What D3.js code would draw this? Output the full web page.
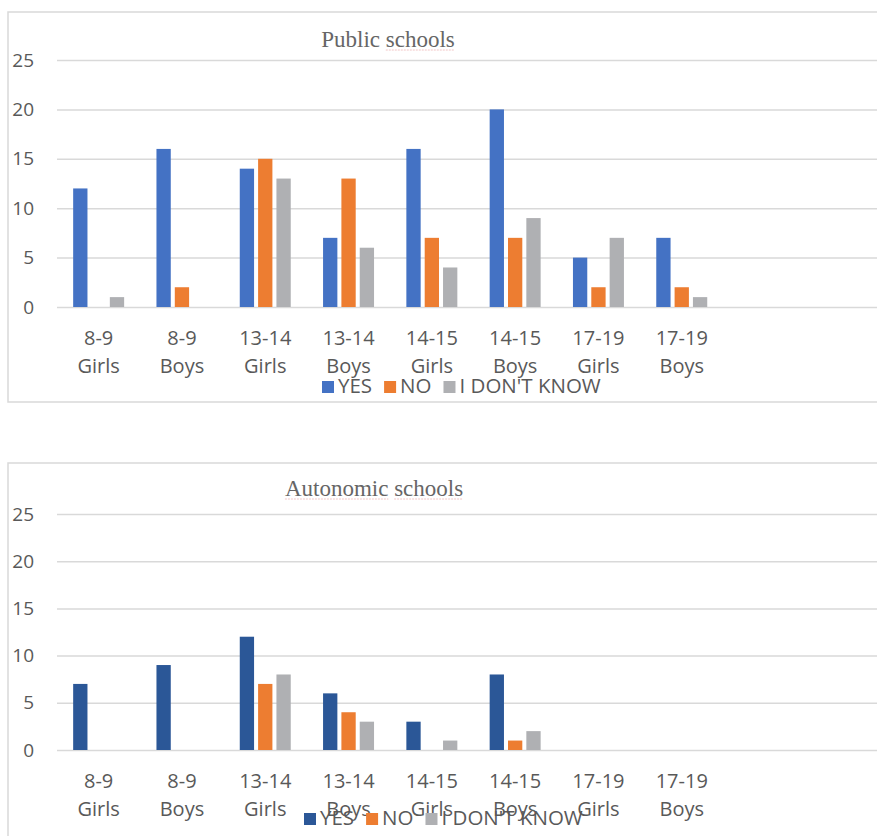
<!DOCTYPE html>
<html>
<head>
<meta charset="utf-8">
<script src="https://cdn.jsdelivr.net/npm/d3@7"></script>
<style>
  body { margin: 0; background: #fff; }
  svg { display: block; }
</style>
</head>
<body>
<div id="chart"></div>
<script>
// Data
const categories = ["8-9 Girls", "8-9 Boys", "13-14 Girls", "13-14 Boys", "14-15 Girls", "14-15 Boys", "17-19 Girls", "17-19 Boys"];
const series = ["YES", "NO", "I DON'T KNOW"];
const yTicks = [0, 5, 10, 15, 20, 25];

const publicYes = [12, 16, 14, 7, 16, 20, 5, 7];
const publicNo = [0, 2, 15, 13, 7, 7, 2, 2];
const publicDontKnow = [1, 0, 13, 6, 4, 9, 7, 1];

const autoYes = [7, 9, 12, 6, 3, 8, 0, 0];
const autoNo = [0, 0, 7, 4, 0, 1, 0, 0];
const autoDontKnow = [0, 0, 8, 3, 1, 2, 0, 0];

// Base variables
const w = 877;
const h = 836;
const plotLeft = 57;
const bandStep = 83.3;
const textColor = "#595959";
const gridColor = "#d9d9d9";

const svg = d3
  .select("#chart")
  .append("svg")
  .attr("width", w)
  .attr("height", h);

function drawPanel(p) {
  const g = svg.append("g");

  // outer frame (runs off the right / bottom of the picture)
  g.append("rect")
    .attr("x", 8)
    .attr("y", p.boxTop)
    .attr("width", 900)
    .attr("height", p.boxHeight)
    .attr("fill", "none")
    .attr("stroke", gridColor)
    .attr("stroke-width", 1.5);

  // title, with the faint spell-check marks seen under some words
  const title = g.append("text")
    .attr("x", p.titleX)
    .attr("y", p.titleY)
    .attr("text-anchor", "middle")
    .style("font-family", "'Liberation Serif', 'Times New Roman', serif")
    .style("font-size", "23px")
    .attr("fill", "#666");
  const spans = p.title.map((word, i) =>
    title.append("tspan").text((i ? " " : "") + word.text)
  );
  p.title.forEach((word, i) => {
    if (!word.squiggle) return;
    const node = spans[i].node();
    const n = node.getNumberOfChars();
    const start = node.getStartPositionOfChar(i ? 1 : 0).x;
    const end = node.getEndPositionOfChar(n - 1).x;
    g.append("line")
      .attr("x1", start)
      .attr("x2", end)
      .attr("y1", p.titleY + 3)
      .attr("y2", p.titleY + 3)
      .attr("stroke", "#f2c6c6")
      .attr("stroke-width", 1)
      .attr("stroke-dasharray", "2,1");
  });

  // Scales
  const x0 = d3.scaleBand()
    .domain(categories)
    .range([plotLeft, plotLeft + bandStep * categories.length])
    .paddingInner(0.388)
    .paddingOuter(0.194);

  const x1 = d3.scaleBand()
    .domain(series)
    .range([0, x0.bandwidth()])
    .paddingInner(0.22);

  const y = d3.scaleLinear()
    .domain([0, 25])
    .range([p.y0, p.y25]);

  // y-axis with gridlines
  const yAxis = d3.axisLeft(y)
    .tickValues(yTicks)
    .tickSize(-(w - plotLeft + 20))
    .tickPadding(23);

  const ya = g.append("g")
    .attr("transform", `translate(${plotLeft}, 0)`)
    .call(yAxis);
  ya.select(".domain").remove();
  ya.selectAll(".tick line").attr("stroke", gridColor).attr("stroke-width", 1.5);
  ya.selectAll(".tick text")
    .attr("fill", textColor)
    .style("font-family", "'Open Sans', sans-serif")
    .style("font-size", "19px");

  // bars
  const rows = categories.map((c, i) => ({ cat: c, values: p.data.map(s => s[i]) }));
  g.selectAll(".grp")
    .data(rows)
    .enter()
    .append("g")
    .attr("transform", d => `translate(${x0(d.cat)}, 0)`)
    .selectAll("rect")
    .data(d => d.values.map((v, k) => ({ key: series[k], value: v })))
    .enter()
    .append("rect")
    .attr("x", d => x1(d.key))
    .attr("y", d => y(d.value))
    .attr("width", x1.bandwidth())
    .attr("height", d => y(0) - y(d.value))
    .attr("fill", d => p.colors[series.indexOf(d.key)]);

  // x-axis labels (two lines)
  const xa = g.append("g")
    .attr("transform", `translate(0, ${p.y0})`)
    .call(d3.axisBottom(x0).tickSize(0).tickFormat(""));
  xa.select(".domain").remove();
  xa.selectAll(".tick text").remove();
  xa.selectAll(".tick")
    .append("text")
    .attr("text-anchor", "middle")
    .attr("fill", textColor)
    .style("font-family", "'Open Sans', sans-serif")
    .style("font-size", "20px")
    .each(function (d) {
      const parts = d.split(" ");
      d3.select(this).append("tspan").attr("x", 0).attr("y", 38).text(parts[0]);
      d3.select(this).append("tspan").attr("x", 0).attr("y", 66).text(parts[1]);
    });

  // legend
  const legend = g.append("g")
    .attr("transform", `translate(${p.legendX}, ${p.legendY})`);
  let lx = 0;
  series.forEach((s, k) => {
    legend.append("rect")
      .attr("x", lx)
      .attr("y", -12)
      .attr("width", 12)
      .attr("height", 12)
      .attr("fill", p.colors[k]);
    const t = legend.append("text")
      .attr("x", lx + 16)
      .attr("y", 0)
      .attr("fill", textColor)
      .style("font-family", "'Open Sans', sans-serif")
      .style("font-size", "20.5px")
      .text(s);
    lx += 16 + t.node().getComputedTextLength() + 12;
  });
}

// Public schools
drawPanel({
  boxTop: 12,
  boxHeight: 390,
  titleX: 388,
  titleY: 47,
  title: [{ text: "Public", squiggle: false }, { text: "schools", squiggle: true }],
  y0: 307,
  y25: 60,
  data: [publicYes, publicNo, publicDontKnow],
  colors: ["#4472C4", "#ED7D31", "#AFB0B3"],
  legendX: 322,
  legendY: 393
});

// Autonomic schools
drawPanel({
  boxTop: 463,
  boxHeight: 500,
  titleX: 374,
  titleY: 496,
  title: [{ text: "Autonomic", squiggle: true }, { text: "schools", squiggle: true }],
  y0: 750,
  y25: 514,
  data: [autoYes, autoNo, autoDontKnow],
  colors: ["#2B5797", "#ED7D31", "#AFB0B3"],
  legendX: 304,
  legendY: 825
});
</script>
</body>
</html>
